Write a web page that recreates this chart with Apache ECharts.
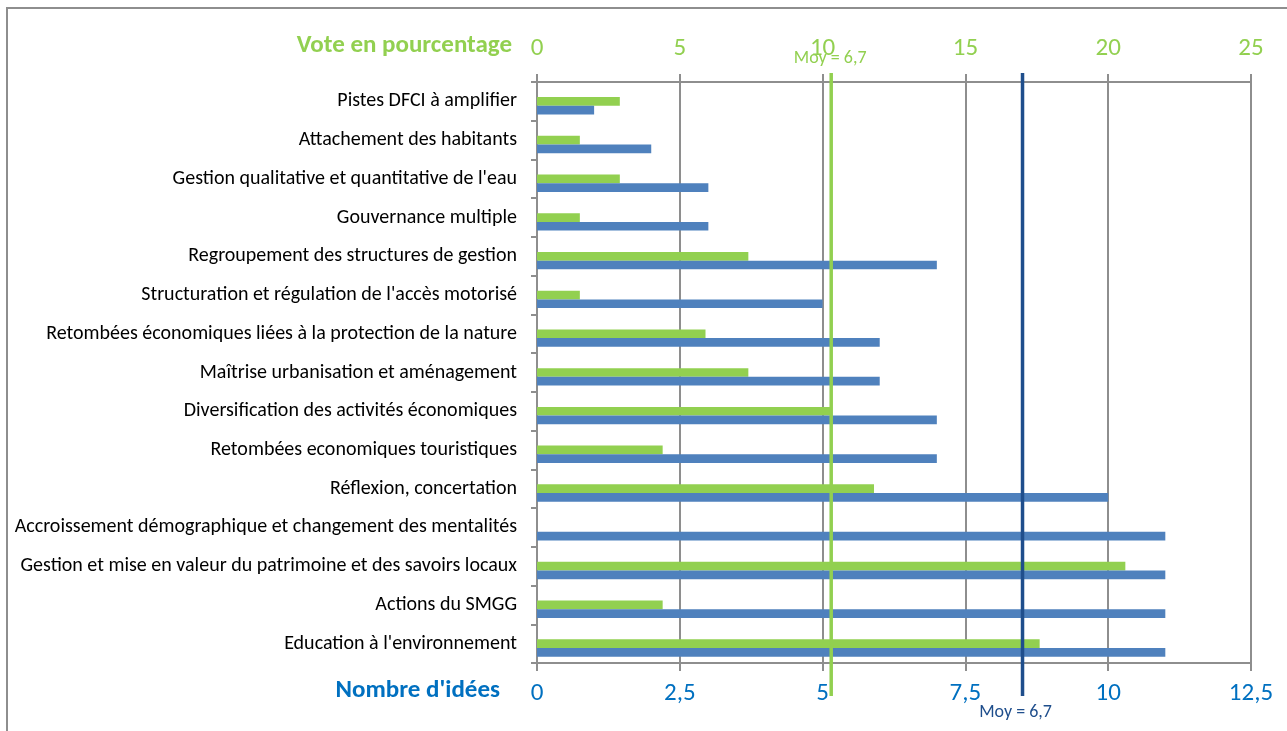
<!DOCTYPE html>
<html>
<head>
<meta charset="utf-8">
<script src="https://cdn.jsdelivr.net/npm/echarts@6/dist/echarts.min.js"></script>
<style>
  html, body { margin: 0; padding: 0; background: #fff; }
  #chart { width: 1287px; height: 731px; }
</style>
</head>
<body>
<div id="chart"></div>
<script>
// Themes, listed from top to bottom
const categories = [
  "Pistes DFCI à amplifier",
  "Attachement des habitants",
  "Gestion qualitative et quantitative de l'eau",
  "Gouvernance multiple",
  "Regroupement des structures de gestion",
  "Structuration et régulation de l'accès motorisé",
  "Retombées économiques liées à la protection de la nature",
  "Maîtrise urbanisation et aménagement",
  "Diversification des activités économiques",
  "Retombées economiques touristiques",
  "Réflexion, concertation",
  "Accroissement démographique et changement des mentalités",
  "Gestion et mise en valeur du patrimoine et des savoirs locaux",
  "Actions du SMGG",
  "Education à l'environnement"
];

// Share of votes (%), top axis
const votePercent = [2.9, 1.5, 2.9, 1.5, 7.4, 1.5, 5.9, 7.4, 10.3, 4.4, 11.8, 0, 20.6, 4.4, 17.6];

// Number of ideas, bottom axis
const ideaCount = [1, 2, 3, 3, 7, 5, 6, 6, 7, 7, 10, 11, 11, 11, 11];

// Averages shown as reference lines
const voteMean = 6.7;
const ideaMean = 6.7;

// Axis tick values
const voteTicks = [0, 5, 10, 15, 20, 25];
const ideaTicks = [0, 2.5, 5, 7.5, 10, 12.5];

const GREEN = '#92D050';
const BLUE = '#4F81BD';
const NAVY = '#1F4E8C';
const LABEL_BLUE = '#0070C0';
const GRID_GRAY = '#8e8e8e';
const FONT = "Carlito, 'Open Sans', sans-serif";

const fmtComma = v => String(v).replace('.', ',');

const chart = echarts.init(document.getElementById('chart'), null, { renderer: 'canvas' });

const option = {
  backgroundColor: '#ffffff',
  animation: false,
  textStyle: { fontFamily: FONT },
  graphic: [
    {
      type: 'rect',
      shape: { x: 7, y: 8, width: 1400, height: 800 },
      style: { fill: 'none', stroke: GRID_GRAY, lineWidth: 2 },
      silent: true
    },
    {
      type: 'text',
      x: 512,
      y: 46,
      style: {
        text: 'Vote en pourcentage',
        fill: GREEN,
        font: "bold 25px " + FONT,
        textAlign: 'right',
        textVerticalAlign: 'middle'
      }
    },
    {
      type: 'text',
      x: 500,
      y: 691,
      style: {
        text: "Nombre d'idées",
        fill: LABEL_BLUE,
        font: "bold 25px " + FONT,
        textAlign: 'right',
        textVerticalAlign: 'middle'
      }
    }
  ],
  grid: [
    { left: 537, right: 36, top: 82, bottom: 68, containLabel: false },
    // overlay grid for the average lines, taller than the plot
    { left: 537, right: 36, top: 73, bottom: 35, containLabel: false }
  ],
  xAxis: [
    {
      type: 'value',
      gridIndex: 0,
      position: 'top',
      min: voteTicks[0],
      max: voteTicks[voteTicks.length - 1],
      interval: voteTicks[1] - voteTicks[0],
      axisLine: { show: true, lineStyle: { color: GRID_GRAY, width: 2 } },
      axisTick: { show: true, inside: false, length: 8, lineStyle: { color: GRID_GRAY, width: 2 } },
      axisLabel: { color: GREEN, fontSize: 25, margin: 21, fontFamily: FONT, formatter: fmtComma },
      splitLine: { show: true, lineStyle: { color: GRID_GRAY, width: 2 } }
    },
    {
      type: 'value',
      gridIndex: 0,
      position: 'bottom',
      min: ideaTicks[0],
      max: ideaTicks[ideaTicks.length - 1],
      interval: ideaTicks[1] - ideaTicks[0],
      axisLine: { show: true, onZero: false, lineStyle: { color: GRID_GRAY, width: 2 } },
      axisTick: { show: true, inside: false, length: 8, lineStyle: { color: GRID_GRAY, width: 2 } },
      axisLabel: { color: LABEL_BLUE, fontSize: 25, margin: 18, fontFamily: FONT, formatter: fmtComma },
      splitLine: { show: false }
    },
    // hidden scales carrying the two average lines
    { type: 'value', gridIndex: 1, min: 0, max: 16.26, show: false },
    { type: 'value', gridIndex: 1, min: 0, max: 9.853, show: false }
  ],
  yAxis: [
    {
      type: 'category',
      gridIndex: 0,
      data: categories,
      inverse: true,
      axisLine: { show: true, lineStyle: { color: GRID_GRAY, width: 2 } },
      axisTick: { show: true, inside: false, length: 6, lineStyle: { color: GRID_GRAY, width: 2 } },
      axisLabel: { color: '#000', fontSize: 20, margin: 20, fontFamily: FONT }
    },
    { type: 'value', gridIndex: 1, min: 0, max: 1, show: false }
  ],
  series: [
    // empty slot above the two bars of each theme
    {
      type: 'bar',
      xAxisIndex: 0,
      yAxisIndex: 0,
      data: [],
      barWidth: 8.7,
      barGap: 0,
      silent: true
    },
    {
      name: 'Vote en pourcentage',
      type: 'bar',
      xAxisIndex: 0,
      yAxisIndex: 0,
      data: votePercent,
      barWidth: 8.7,
      barGap: 0,
      itemStyle: { color: GREEN }
    },
    {
      name: "Nombre d'idées",
      type: 'bar',
      xAxisIndex: 1,
      yAxisIndex: 0,
      data: ideaCount,
      barWidth: 8.7,
      barGap: 0,
      itemStyle: { color: BLUE }
    },
    {
      name: 'Moyenne votes',
      type: 'line',
      xAxisIndex: 2,
      yAxisIndex: 1,
      data: [[voteMean, 0], [voteMean, 1]],
      symbol: 'none',
      lineStyle: { color: GREEN, width: 3.5 },
      markPoint: {
        symbol: 'circle',
        symbolSize: 1,
        itemStyle: { color: 'rgba(0,0,0,0)' },
        data: [{
          coord: [voteMean, 1],
          label: {
            show: true,
            formatter: 'Moy = ' + fmtComma(voteMean),
            position: 'top',
            distance: 5,
            offset: [-1, 0],
            color: GREEN,
            fontSize: 18,
            fontFamily: FONT
          }
        }]
      },
      silent: true,
      z: 5
    },
    {
      name: 'Moyenne idées',
      type: 'line',
      xAxisIndex: 3,
      yAxisIndex: 1,
      data: [[ideaMean, 0], [ideaMean, 1]],
      symbol: 'none',
      lineStyle: { color: NAVY, width: 3.5 },
      markPoint: {
        symbol: 'circle',
        symbolSize: 1,
        itemStyle: { color: 'rgba(0,0,0,0)' },
        data: [{
          coord: [ideaMean, 0],
          label: {
            show: true,
            formatter: 'Moy = ' + fmtComma(ideaMean),
            position: 'bottom',
            distance: 7,
            offset: [-7, 0],
            color: NAVY,
            fontSize: 18,
            fontFamily: FONT
          }
        }]
      },
      silent: true,
      z: 5
    }
  ]
};

chart.setOption(option);
</script>
</body>
</html>
